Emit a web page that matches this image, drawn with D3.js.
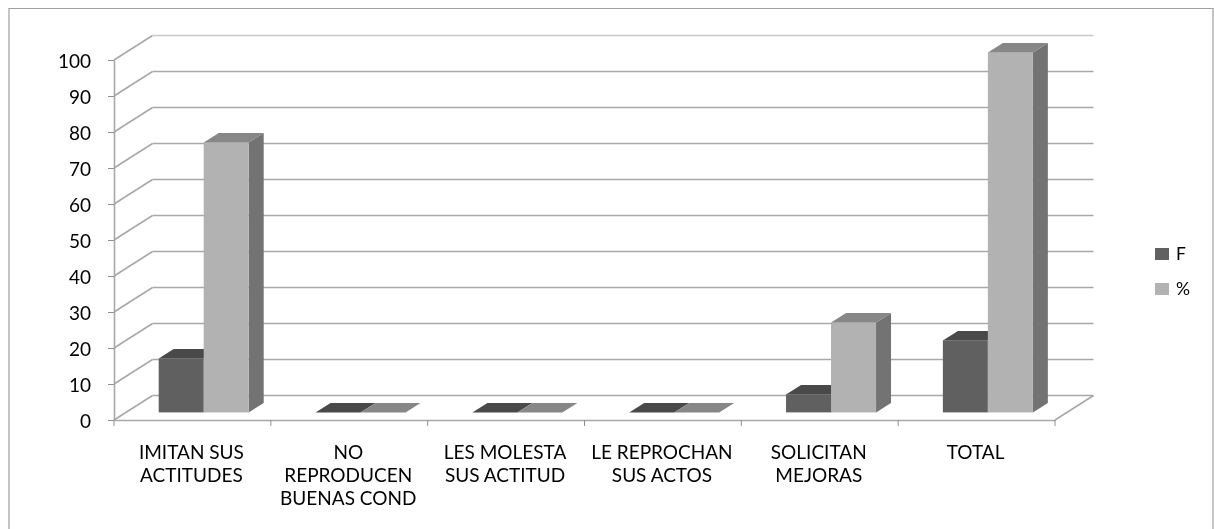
<!DOCTYPE html>
<html>
<head>
<meta charset="utf-8">
<script src="https://cdn.jsdelivr.net/npm/d3@7"></script>
<style>
    html, body { margin: 0; padding: 0; background: #fff; }
    svg { display: block; }
    text { font-family: Lato, sans-serif; fill: #000; }
</style>
</head>
<body>
<svg id="chart"></svg>
<script>
// Chart values
const categories = ["IMITAN SUS ACTITUDES", "NO REPRODUCEN BUENAS COND", "LES MOLESTA SUS ACTITUD", "LE REPROCHAN SUS ACTOS", "SOLICITAN MEJORAS", "TOTAL"];
const categoryLines = [["IMITAN SUS", "ACTITUDES"], ["NO", "REPRODUCEN", "BUENAS COND"], ["LES MOLESTA", "SUS ACTITUD"], ["LE REPROCHAN", "SUS ACTOS"], ["SOLICITAN", "MEJORAS"], ["TOTAL"]];
const seriesNames = ["F", "%"];
const valuesF = [15, 0, 0, 0, 5, 20];
const valuesPct = [75, 0, 0, 0, 25, 100];
const yTicks = [0, 10, 20, 30, 40, 50, 60, 70, 80, 90, 100];

const width = 1214, height = 529;
const wallDx = 38.5, wallDy = -24.5; // depth of the back wall
const barDx = 15, barDy = -9.4;      // depth of one bar
const barShiftX = 44.7, barShiftY = -7.6; // bars stand inside the floor
const barWidth = 45;

const colors = {
    "F": { front: "#606060", top: "#4a4a4a", side: "#4f4f4f" },
    "%": { front: "#b2b2b2", top: "#878787", side: "#737373" }
};
const gridColor = "#a8a8a8";

const svg = d3.select("#chart").attr("width", width).attr("height", height);

const defs = svg.append("defs");
defs.append("filter").attr("id", "soft")
    .attr("filterUnits", "userSpaceOnUse")
    .attr("x", 0).attr("y", 0).attr("width", width).attr("height", height)
    .append("feGaussianBlur").attr("stdDeviation", 0.5);

const root = svg.append("g").attr("filter", "url(#soft)");

// Outer frame, open at the bottom
root.append("path")
    .attr("d", `M9,${height}V8.5H1213V${height}`)
    .attr("fill", "none")
    .attr("stroke", "#a0a0a0")
    .attr("stroke-width", 1.2);

const x0 = d3.scaleBand().domain(categories).range([114, 1055]);
const x1 = d3.scaleBand().domain(seriesNames).range([0, barWidth * 2]);
const y = d3.scaleLinear().domain([0, 100]).range([420, 60]);

// Back wall grid and its diagonals on the left side
const grid = root.append("g")
    .attr("fill", "none")
    .attr("stroke", gridColor)
    .attr("stroke-width", 1.6);

grid.selectAll(".diagonal")
    .data(yTicks)
    .enter()
    .append("path")
    .attr("class", "diagonal")
    .attr("d", d => `M114,${y(d)}L${114 + wallDx},${y(d) + wallDy}`);

grid.selectAll(".wall")
    .data(yTicks)
    .enter()
    .append("path")
    .attr("class", "wall")
    .attr("stroke", d => d === 100 ? "#c8c8c8" : gridColor)
    .attr("d", d => `M${114 + wallDx},${y(d) + wallDy}H${1055 + wallDx}`);

// Right edge of the floor
grid.append("path")
    .attr("d", `M1055,${y(0)}L${1055 + wallDx},${y(0) + wallDy}`);

// Axes
const yAxis = root.append("g")
    .attr("transform", "translate(114,0)")
    .call(d3.axisLeft(y).tickValues(yTicks).tickSize(6).tickPadding(17).tickSizeOuter(0));
yAxis.selectAll("text").attr("font-size", 19).attr("dy", "0.41em").style("font-family", "Lato, sans-serif");

const xAxis = root.append("g")
    .attr("transform", `translate(0,${y(0)})`)
    .call(d3.axisBottom(x0).tickValues([]).tickSize(0).tickSizeOuter(0));

root.selectAll(".domain").attr("stroke", gridColor).attr("stroke-width", 1.6);
yAxis.selectAll("line").attr("stroke", "#8f8f8f").attr("stroke-width", 1);

// Category ticks sit on the band edges
root.append("g")
    .selectAll("line")
    .data(categories.concat([null]))
    .enter()
    .append("line")
    .attr("x1", d => d === null ? x0.range()[1] : x0(d))
    .attr("x2", d => d === null ? x0.range()[1] : x0(d))
    .attr("y1", y(0))
    .attr("y2", y(0) + 6)
    .attr("stroke", "#8f8f8f");

// Bars
const series = [
    { name: "F", values: valuesF },
    { name: "%", values: valuesPct }
];

series.forEach(s => {
    const c = colors[s.name];
    const bars = root.append("g")
        .selectAll("g")
        .data(s.values.map((v, i) => ({ value: v, category: categories[i] })))
        .enter()
        .append("g");

    const left = d => x0(d.category) + barShiftX + x1(s.name);
    const base = y(0) + barShiftY;
    const top = d => y(d.value) + barShiftY;

    // right side
    bars.filter(d => d.value > 0).append("path")
        .attr("fill", c.side)
        .attr("d", d => `M${left(d) + barWidth},${base}v${top(d) - base}l${barDx},${barDy}v${base - top(d)}z`);
    // front face
    bars.filter(d => d.value > 0).append("rect")
        .attr("x", left)
        .attr("y", top)
        .attr("width", barWidth)
        .attr("height", d => base - top(d))
        .attr("fill", c.front);
    // top
    bars.append("path")
        .attr("fill", c.top)
        .attr("d", d => `M${left(d)},${top(d)}h${barWidth}l${barDx},${barDy}h${-barWidth}z`);
});

// Category labels
const labels = root.append("g")
    .selectAll("text")
    .data(categories)
    .enter()
    .append("text")
    .attr("text-anchor", "middle")
    .attr("font-size", 19)
    .attr("y", 459);

labels.selectAll("tspan")
    .data((d, i) => categoryLines[i].map(line => ({ line, category: d })))
    .enter()
    .append("tspan")
    .attr("x", d => x0(d.category) + x0.bandwidth() / 2 - 1)
    .attr("dy", (d, i) => i === 0 ? 0 : 23)
    .text(d => d.line);

// Legend
const legendY = d3.scalePoint().domain(seriesNames).range([254, 289]);
const legend = root.append("g")
    .selectAll("g")
    .data(seriesNames)
    .enter()
    .append("g")
    .attr("transform", d => `translate(1155,${legendY(d)})`);

legend.append("rect")
    .attr("y", -6)
    .attr("width", 14)
    .attr("height", 12)
    .attr("fill", d => colors[d].front);

legend.append("text")
    .attr("x", 21)
    .attr("y", 6)
    .attr("font-size", 17.5)
    .text(d => d);
</script>
</body>
</html>
